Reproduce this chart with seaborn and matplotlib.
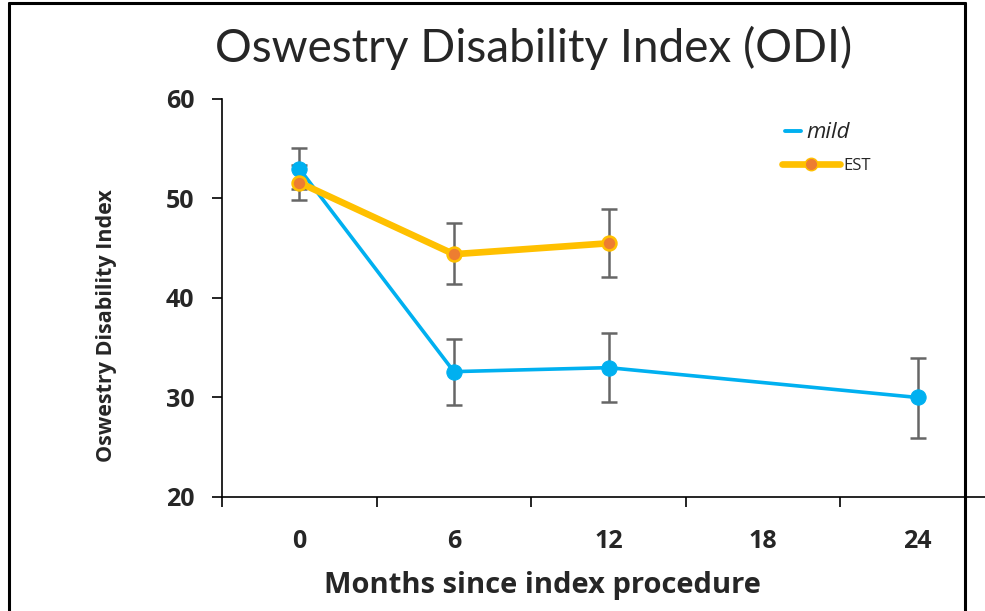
import matplotlib
matplotlib.use("Agg")
import matplotlib.pyplot as plt
import matplotlib.lines as mlines
import numpy as np
import pandas as pd
import seaborn as sns

# Mean ODI scores with lower / upper error limits
months_mild = [0, 6, 12, 24]
odi_mild = [53.0, 32.6, 33.0, 30.0]
lo_mild = [51.0, 29.2, 29.5, 25.9]
hi_mild = [55.1, 35.9, 36.5, 34.0]

months_est = [0, 6, 12]
odi_est = [51.6, 44.4, 45.5]
lo_est = [49.8, 41.4, 42.1]
hi_est = [53.4, 47.5, 48.9]

x_ticks = [0, 6, 12, 18, 24]
y_ticks = [20, 30, 40, 50, 60]

BLUE = "#00B0F0"
GOLD = "#FFC000"
ORANGE = "#ED7D31"
GREY = "#666666"

sns.set_theme(style="white")
plt.rcParams["font.family"] = ["Open Sans", "DejaVu Sans"]

df_mild = pd.DataFrame({"month": months_mild, "odi": odi_mild, "group": "mild"})
df_est = pd.DataFrame({"month": months_est, "odi": odi_est, "group": "EST"})

fig = plt.figure(figsize=(9.85, 6.11), dpi=100)
ax = fig.add_axes([222 / 985, 114 / 611, 773 / 985, 398 / 611])

# error bars first so lines and markers sit on top
for m, v, lo, hi in [(months_mild, odi_mild, lo_mild, hi_mild),
                     (months_est, odi_est, lo_est, hi_est)]:
    v = np.array(v)
    yerr = np.vstack([v - np.array(lo), np.array(hi) - v])
    ax.errorbar(m, v, yerr=yerr, fmt="none", ecolor=GREY, elinewidth=1.8,
                capsize=6, capthick=1.8, zorder=1)

sns.lineplot(data=df_mild, x="month", y="odi", ax=ax, color=BLUE,
             linewidth=2.6, marker="o", markersize=11, markeredgecolor=BLUE,
             markerfacecolor=BLUE, zorder=3, legend=False)
sns.lineplot(data=df_est, x="month", y="odi", ax=ax, color=GOLD,
             linewidth=4.8, marker="o", markersize=10, markeredgewidth=1.8,
             markeredgecolor=GOLD, markerfacecolor=ORANGE, zorder=4,
             legend=False)

ax.set_xlim(-3, 27)
ax.set_ylim(20, 60)
ax.set_yticks(y_ticks)
ax.set_xticks(x_ticks)
ax.set_xticks(np.arange(-3, 28, 6), minor=True)
ax.tick_params(axis="x", which="major", length=0, pad=23, labelsize=18)
ax.tick_params(axis="x", which="minor", length=7, width=1.2, direction="out",
               color="black", bottom=True)
ax.tick_params(axis="y", which="major", length=7, width=1.2, direction="out",
               color="black", left=True, pad=13, labelsize=18)
for lab in ax.get_xticklabels() + ax.get_yticklabels():
    lab.set_fontweight("bold")

for s in ["top", "right"]:
    ax.spines[s].set_visible(False)
for s in ["left", "bottom"]:
    ax.spines[s].set_color("black")
    ax.spines[s].set_linewidth(1.2)

ax.set_xlabel("Months since index procedure", fontsize=21, fontweight="bold")
ax.xaxis.set_label_coords((542 - 222) / 773, -(585 - 497) / 398)
ax.xaxis.label.set_va("center")
ax.set_ylabel("Oswestry Disability Index", fontsize=15.5, fontweight="bold")
ax.yaxis.set_label_coords(-(222 - 107) / 773, (497 - 326) / 398)
ax.yaxis.label.set_va("center")

fig.text(0.542, 0.921, "Oswestry Disability Index (ODI)", ha="center",
         va="center", fontsize=33, family=["Lato", "DejaVu Sans"])

# two single-entry legends, each with its own handle length
h_mild = mlines.Line2D([], [], color=BLUE, linewidth=2.8)
h_est = mlines.Line2D([], [], color=GOLD, linewidth=4.8, marker="o",
                      markersize=9, markerfacecolor=ORANGE,
                      markeredgecolor=GOLD)
leg1 = ax.legend([h_mild], ["mild"], loc="center left",
                 bbox_to_anchor=((785 - 222) / 773, (497 - 133) / 398),
                 frameon=False, fontsize=16, handlelength=0.7,
                 handletextpad=0.25, borderpad=0, borderaxespad=0)
leg1.get_texts()[0].set_fontstyle("italic")
ax.add_artist(leg1)
leg2 = ax.legend([h_est], ["EST"], loc="center left",
                 bbox_to_anchor=((782 - 222) / 773, (497 - 166) / 398),
                 frameon=False, fontsize=12, handlelength=3.5,
                 handletextpad=0.2, borderpad=0, borderaxespad=0)

# outer frame around the figure
frame = dict(color="black", linewidth=2.2, transform=fig.transFigure,
             clip_on=False)
fig.add_artist(mlines.Line2D([9 / 985, 9 / 985], [0, 1 - 3 / 611], **frame))
fig.add_artist(mlines.Line2D([9 / 985, 965 / 985], [1 - 3 / 611, 1 - 3 / 611],
                             **frame))
fig.add_artist(mlines.Line2D([965 / 985, 965 / 985], [0, 1 - 3 / 611], **frame))

fig.savefig("out.png", dpi=100)
